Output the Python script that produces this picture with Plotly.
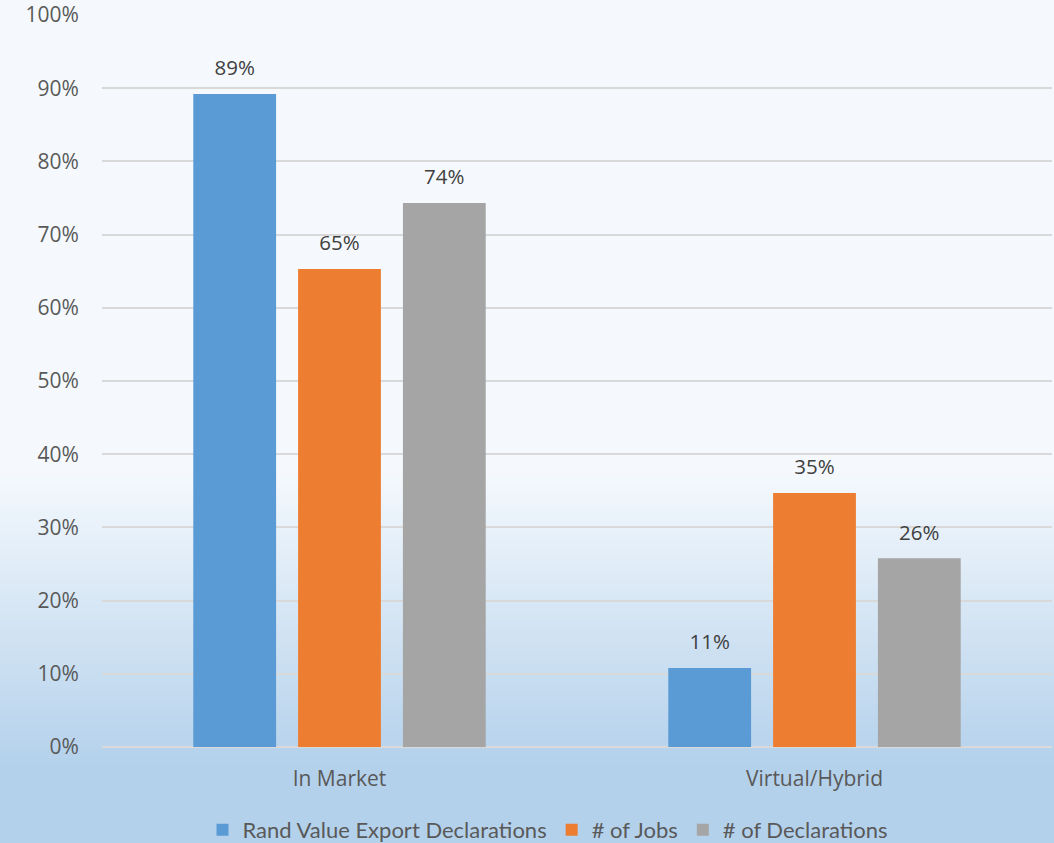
import plotly.graph_objects as go

categories = ["In Market", "Virtual/Hybrid"]
rand_value = [0.892, 0.108]
jobs = [0.653, 0.347]
declarations = [0.743, 0.258]
series_names = ["Rand Value Export Declarations", "# of Jobs", "# of Declarations"]
colors = ["#5B9BD5", "#ED7D31", "#A5A5A5"]
tick_vals = [0, 0.1, 0.2, 0.3, 0.4, 0.5, 0.6, 0.7, 0.8, 0.9, 1.0]

W, H = 1054, 843
ML, MR, MT, MB = 102, 2, 15, 96
PH = H - MT - MB
PW = W - ML - MR

FONT = "'Open Sans', sans-serif"
LFONT = "Lato, sans-serif"
GAP = 0.338

fig = go.Figure()
for k, (name, vals, col) in enumerate(zip(series_names, [rand_value, jobs, declarations], colors)):
    fig.add_trace(go.Bar(
        x=categories, y=vals, name=name, offsetgroup=str(k),
        marker=dict(color=col, line=dict(width=0)),
    ))
for k, vals in enumerate([rand_value, jobs, declarations]):
    fig.add_trace(go.Scatter(
        x=categories, y=vals, mode="markers+text", offsetgroup=str(k),
        marker=dict(size=20, color="rgba(0,0,0,0)"),
        text=["%d%%" % round(v * 100) for v in vals], textposition="top center",
        textfont=dict(color="#404040", size=20.5, family=FONT),
        showlegend=False, cliponaxis=False, hoverinfo="skip",
    ))

# gradient background via thin strips
def lerp(a, b, t):
    return tuple(round(a[i] + (b[i] - a[i]) * t) for i in range(3))

top = (245, 249, 253)
bot = (180, 209, 235)
g0, g1 = 470, 765
def py(p):
    return (H - MB - p) / PH
def px(p):
    return (p - ML) / PW
x0 = px(-5)
x1 = px(W + 5)
shapes = [dict(type="rect", xref="paper", yref="paper", x0=x0, x1=x1,
               y0=py(g0), y1=py(-5), fillcolor="rgb(%d,%d,%d)" % top,
               line=dict(width=0), layer="below")]
step = 3
p = g0
while p < g1:
    t = (p - g0 + step / 2) / (g1 - g0)
    c = lerp(top, bot, t)
    shapes.append(dict(type="rect", xref="paper", yref="paper", x0=x0, x1=x1,
                       y0=py(p + step + 0.5), y1=py(p), fillcolor="rgb(%d,%d,%d)" % c,
                       line=dict(width=0), layer="below"))
    p += step
shapes.append(dict(type="rect", xref="paper", yref="paper", x0=x0, x1=x1,
                   y0=py(H + 5), y1=py(g1), fillcolor="rgb(%d,%d,%d)" % bot,
                   line=dict(width=0), layer="below"))

fig.update_layout(
    width=W, height=H,
    margin=dict(l=ML, r=MR, t=MT, b=MB, autoexpand=False),
    paper_bgcolor="rgb(%d,%d,%d)" % top,
    plot_bgcolor="rgba(0,0,0,0)",
    barmode="group", bargap=GAP, bargroupgap=0.21,
    scattermode="group", scattergap=GAP,
    shapes=shapes,
    font=dict(family=FONT, color="#595959", size=21),
    showlegend=True,
    legend=dict(orientation="h", x=px(548), xanchor="center", y=py(830), yanchor="middle",
                font=dict(size=22, color="#595959", family=LFONT),
                bgcolor="rgba(0,0,0,0)", traceorder="normal", itemwidth=30),
    xaxis=dict(showgrid=False, showline=False, zeroline=False,
               ticks="outside", ticklen=13, tickcolor="rgba(0,0,0,0)",
               tickfont=dict(size=21, color="#595959", family=FONT)),
    yaxis=dict(range=[0, 1.0], tickvals=tick_vals, tickformat=".0%",
               showgrid=True, gridcolor="#D9D9D9", gridwidth=1.5,
               zeroline=True, zerolinecolor="#D9D9D9", zerolinewidth=1.5,
               showline=False, ticks="outside", ticklen=18, tickcolor="rgba(0,0,0,0)",
               tickfont=dict(size=21, color="#595959", family=FONT)),
)

fig.write_html("out.html")
